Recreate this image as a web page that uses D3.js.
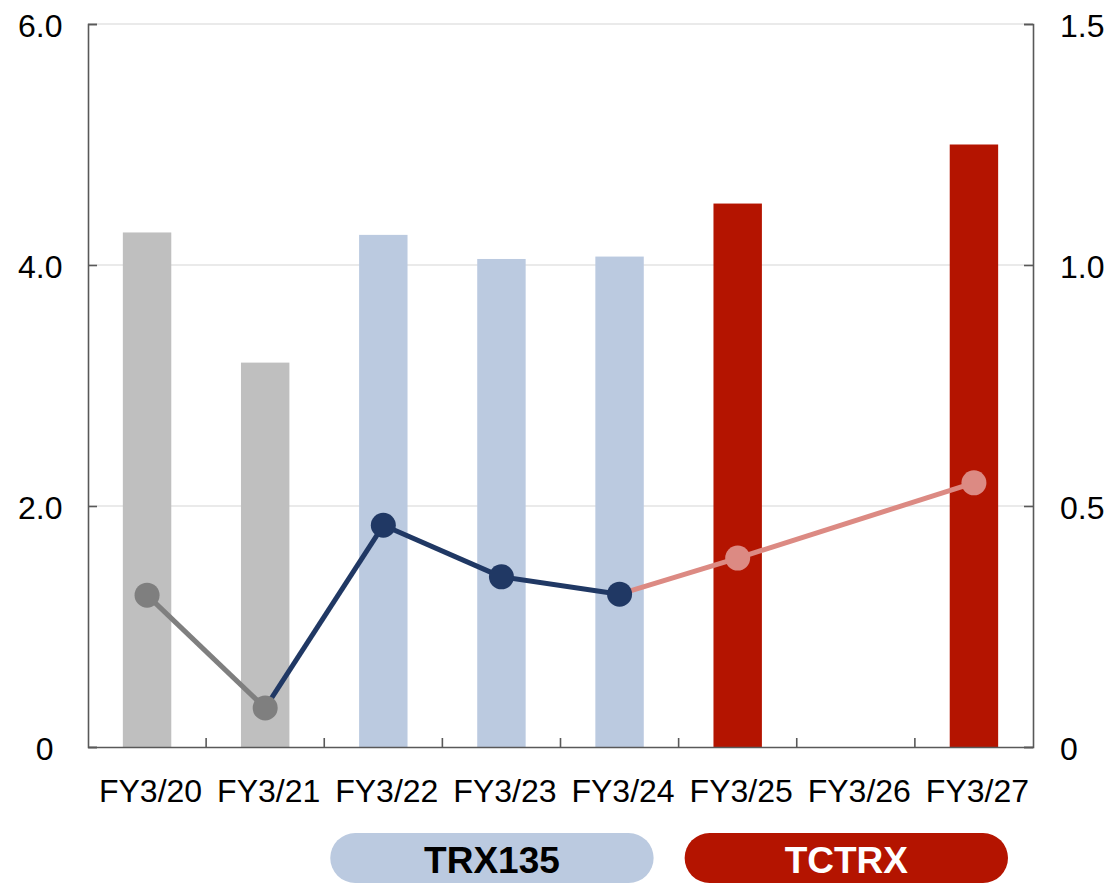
<!DOCTYPE html>
<html>
<head>
<meta charset="utf-8">
<script src="https://cdn.jsdelivr.net/npm/d3@7"></script>
<style>
  body { margin: 0; background: #fff; }
  svg { display: block; font-family: Arial, "Liberation Sans", sans-serif; }
</style>
</head>
<body>
<div id="chart"></div>
<script>
// ---- data ----
const categories = ["FY3/20", "FY3/21", "FY3/22", "FY3/23", "FY3/24", "FY3/25", "FY3/26", "FY3/27"];
const groups = ["past", "past", "trx", "trx", "trx", "tctrx", "tctrx", "tctrx"];
const barValues = [4.27, 3.19, 4.25, 4.05, 4.07, 4.51, null, 5.0];   // left axis
const lineValues = [0.315, 0.081, 0.46, 0.353, 0.317, 0.392, null, 0.548]; // right axis
const leftTicks = [0, 2, 4, 6];
const rightTicks = [0, 0.5, 1.0, 1.5];
const legendLabels = ["TRX135", "TCTRX"];
const legendSpans = [["FY3/22", "FY3/24"], ["FY3/25", "FY3/27"]];

window.onload = function () {
  const W = 1107, H = 885;
  const left = 88, right = 1033, top = 24, bottom = 747;

  const svg = d3.select("#chart").append("svg")
    .attr("width", W).attr("height", H);

  const x = d3.scaleBand().domain(categories).range([left, right]);
  const yL = d3.scaleLinear().domain([0, 6]).range([bottom, top]);
  const yR = d3.scaleLinear().domain([0, 1.5]).range([bottom, top]);

  const barColor = d3.scaleOrdinal()
    .domain(["past", "trx", "tctrx"])
    .range(["#bfbfbf", "#bbcae0", "#b41400"]);
  const lineColor = d3.scaleOrdinal()
    .domain(["past", "trx", "tctrx"])
    .range(["#7f7f7f", "#203864", "#dc8a83"]);

  // gridlines
  svg.append("g")
    .selectAll("line")
    .data(leftTicks.filter((d) => d > 0))
    .enter().append("line")
    .attr("x1", left).attr("x2", right)
    .attr("y1", (d) => yL(d)).attr("y2", (d) => yL(d))
    .attr("stroke", "#e3e3e3").attr("stroke-width", 1.5);

  // bars
  const barW = x.bandwidth() * 0.41;
  const bars = categories.map((c, i) => ({ cat: c, value: barValues[i], group: groups[i] }))
    .filter((d) => d.value != null);
  svg.append("g")
    .selectAll("rect")
    .data(bars)
    .enter().append("rect")
    .attr("x", (d) => x(d.cat) + x.bandwidth() / 2 - barW / 2)
    .attr("width", barW)
    .attr("y", (d) => yL(d.value))
    .attr("height", (d) => bottom - yL(d.value))
    .attr("fill", (d) => barColor(d.group));

  // axes
  const axisColor = "#595959";
  const gl = svg.append("g").attr("transform", `translate(${left},0)`)
    .call(d3.axisRight(yL).tickValues(leftTicks).tickSize(9).tickFormat(""));
  const gr = svg.append("g").attr("transform", `translate(${right},0)`)
    .call(d3.axisLeft(yR).tickValues(rightTicks).tickSize(9).tickFormat(""));
  const gb = svg.append("g").attr("transform", `translate(0,${bottom})`)
    .call(d3.axisTop(x).tickSize(0).tickFormat(""));
  [gl, gr, gb].forEach((g) => {
    g.select(".domain").attr("stroke", axisColor).attr("stroke-width", 1.6);
    g.selectAll(".tick line").attr("stroke", axisColor).attr("stroke-width", 1.6);
  });

  // category separators (ticks pointing up)
  svg.append("g")
    .selectAll("line")
    .data(categories.slice(1))
    .enter().append("line")
    .attr("x1", (d) => x(d)).attr("x2", (d) => x(d))
    .attr("y1", bottom).attr("y2", bottom - 9)
    .attr("stroke", axisColor).attr("stroke-width", 1.6);

  // tick labels
  svg.append("g")
    .selectAll("text")
    .data(leftTicks)
    .enter().append("text")
    .attr("x", (d) => (d === 0 ? 53.5 : 62.5))
    .attr("y", (d) => yL(d))
    .attr("dy", "0.42em")
    .attr("text-anchor", "end")
    .attr("font-size", "32px")
    .attr("fill", "#000")
    .text((d) => (d === 0 ? "0" : d3.format(".1f")(d)));

  svg.append("g")
    .selectAll("text")
    .data(rightTicks)
    .enter().append("text")
    .attr("x", 1060)
    .attr("y", (d) => yR(d))
    .attr("dy", "0.42em")
    .attr("text-anchor", "start")
    .attr("font-size", "32px")
    .attr("fill", "#000")
    .text((d) => (d === 0 ? "0" : d3.format(".1f")(d)));

  svg.append("g")
    .selectAll("text")
    .data(categories)
    .enter().append("text")
    .attr("x", (d) => x(d) + x.bandwidth() / 2 + 3.5)
    .attr("y", 802)
    .attr("text-anchor", "middle")
    .attr("font-size", "32px")
    .attr("fill", "#000")
    .text((d) => d);

  // line segments, coloured by the group of the end point
  const pts = categories.map((c, i) => ({ cat: c, value: lineValues[i], group: groups[i] }))
    .filter((d) => d.value != null);
  const segs = d3.pairs(pts);
  const cx = (d) => x(d.cat) + x.bandwidth() / 2;
  svg.append("g")
    .selectAll("line")
    .data(segs)
    .enter().append("line")
    .attr("x1", (d) => cx(d[0])).attr("y1", (d) => yR(d[0].value))
    .attr("x2", (d) => cx(d[1])).attr("y2", (d) => yR(d[1].value))
    .attr("stroke", (d) => lineColor(d[1].group))
    .attr("stroke-width", 5);

  svg.append("g")
    .selectAll("circle")
    .data(pts)
    .enter().append("circle")
    .attr("cx", cx)
    .attr("cy", (d) => yR(d.value))
    .attr("r", 12.5)
    .attr("fill", (d) => lineColor(d.group));

  // legend pills
  const pillColor = ["#bbcae0", "#b41400"];
  const pillText = ["#000", "#fff"];
  const pills = svg.append("g")
    .selectAll("g")
    .data(legendLabels)
    .enter().append("g");
  pills.append("rect")
    .attr("x", (d, i) => x(legendSpans[i][0]) + 6)
    .attr("width", (d, i) => x(legendSpans[i][1]) + x.bandwidth() - 25 - (x(legendSpans[i][0]) + 6))
    .attr("y", 833)
    .attr("height", 50)
    .attr("rx", 25)
    .attr("fill", (d, i) => pillColor[i]);
  pills.append("text")
    .attr("x", (d, i) => (x(legendSpans[i][0]) + 6 + x(legendSpans[i][1]) + x.bandwidth() - 25) / 2)
    .attr("y", 873)
    .attr("text-anchor", "middle")
    .attr("font-size", "37px")
    .attr("font-weight", "bold")
    .attr("fill", (d, i) => pillText[i])
    .text((d) => d);
};
</script>
</body>
</html>
